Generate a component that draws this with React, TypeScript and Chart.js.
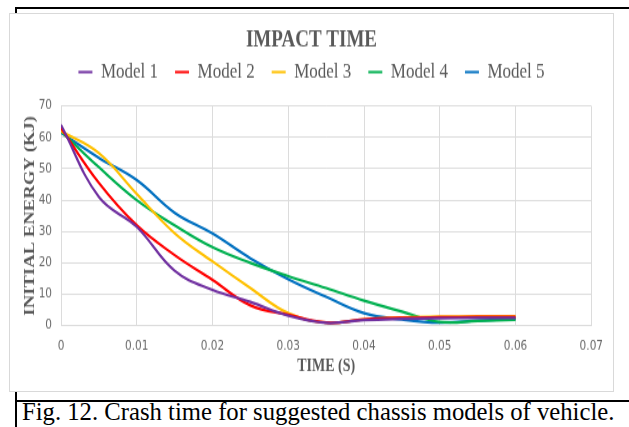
import React, { useEffect, useRef } from "react";
import { Chart, registerables } from "chart.js";

Chart.register(...registerables);

// ---- data ----
const timeValues = [0, 0.005, 0.01, 0.015, 0.02, 0.025, 0.03, 0.035, 0.04, 0.045, 0.05, 0.055, 0.06];
const model1 = [64, 41, 31.5, 17.5, 11.4, 7.6, 3.2, 0.9, 1.8, 2.2, 2.4, 2.5, 2.5];
const model2 = [63, 45.5, 32, 22.5, 14.6, 6.5, 3.5, 1.0, 2.0, 2.5, 2.7, 2.8, 2.8];
const model3 = [62, 55, 42, 29.5, 20.5, 12, 4, 1.0, 2.0, 2.6, 2.9, 3.0, 3.0];
const model4 = [62, 50.5, 40, 32, 25, 20, 15.8, 12, 8, 4.5, 1.2, 1.5, 1.9];
const model5 = [61.5, 53.5, 46.4, 36, 29.4, 21.5, 14.8, 9.2, 4, 2, 1.0, 1.6, 2.2];
const seriesNames = ["Model 1", "Model 2", "Model 3", "Model 4", "Model 5"];
const seriesValues = [model1, model2, model3, model4, model5];
const seriesColors = ["#7030A0", "#FF0000", "#FFC000", "#00B050", "#0070C0"];
const xMin = 0;
const xMax = 0.07;
const xStep = 0.01;
const yMin = 0;
const yMax = 70;
const yStep = 10;
const chartTitle = "IMPACT TIME";
const xTitle = "TIME (S)";
const yTitle = "INITIAL ENERGY (KJ)";
const caption = "Fig. 12. Crash time for suggested chassis models of vehicle.";

const CANVAS_W = 603;
const CANVAS_H = 302;
const SCALE_Y = 377 / CANVAS_H;

export default function App() {
  const canvasRef = useRef<HTMLCanvasElement | null>(null);

  useEffect(() => {
    const canvas = canvasRef.current;
    if (!canvas) return;
    const serif = "'Liberation Serif', 'Times New Roman', serif";
    const textGray = "#595959";
    const grid = "#dcdcdc";
    const chart = new Chart(canvas, {
      type: "line",
      data: {
        datasets: seriesNames.map((name, i) => ({
          label: name,
          data: timeValues.map((t, j) => ({ x: t, y: seriesValues[i][j] })),
          borderColor: seriesColors[i],
          backgroundColor: seriesColors[i],
          borderWidth: 2.2,
          pointRadius: 0,
          tension: 0.4,
          fill: false,
        })),
      },
      options: {
        animation: false,
        responsive: true,
        maintainAspectRatio: false,
        devicePixelRatio: 1,
        layout: { padding: 0 },
        plugins: {
          tooltip: { enabled: false },
          title: {
            display: true,
            text: chartTitle,
            color: textGray,
            font: { family: serif, size: 19, weight: "bold", lineHeight: 1 },
            padding: { top: 11.5, bottom: -9.5 },
          },
          legend: {
            display: true,
            position: "top",
            labels: {
              color: textGray,
              font: { family: serif, size: 17 },
              boxWidth: 14,
              boxHeight: 2,
              padding: 17,
              generateLabels: (c: any) =>
                (Chart.defaults.plugins.legend.labels as any)
                  .generateLabels(c)
                  .map((l: any) => ({ ...l, lineWidth: 0 })),
            },
          },
          subtitle: {
            display: true,
            text: "",
            weight: 500,
            font: { size: 1, lineHeight: 1 },
            padding: { top: 7.7, bottom: 0 },
          } as any,
        },
        scales: {
          x: {
            type: "linear",
            min: xMin,
            max: xMax,
            border: { display: false },
            grid: { color: grid, lineWidth: 1, drawTicks: false },
            ticks: {
              stepSize: xStep,
              padding: 10,
              color: "#6a6a6a",
              font: { family: "'DejaVu Sans', sans-serif", size: 10.5 },
              callback: (v: any) => String(Number(Number(v).toFixed(3))),
            },
            title: {
              display: true,
              text: xTitle,
              color: textGray,
              font: { family: serif, size: 14, weight: "bold", lineHeight: 1.2 },
              padding: { top: 0, bottom: 10.8 },
            },
            afterFit: (s: any) => {
              s.height = CANVAS_H - 249.7;
            },
          },
          y: {
            type: "linear",
            min: yMin,
            max: yMax,
            border: { display: false },
            grid: { color: grid, lineWidth: 1, drawTicks: false },
            ticks: {
              stepSize: yStep,
              padding: 9,
              color: "#6a6a6a",
              font: { family: "'DejaVu Sans', sans-serif", size: 10.5 },
            },
            title: {
              display: true,
              text: yTitle,
              color: textGray,
              font: { family: serif, size: 15, weight: "bold", lineHeight: 1.2 },
              padding: { top: 11, bottom: 0 },
            },
            afterFit: (s: any) => {
              s.width = 51;
            },
          },
          yRightSpace: {
            type: "linear",
            position: "right",
            display: true,
            min: yMin,
            max: yMax,
            border: { display: false },
            grid: { display: false, drawTicks: false },
            ticks: { display: false },
            afterFit: (s: any) => {
              s.width = 18;
            },
          },
        },
      } as any,
    });
    return () => chart.destroy();
  }, []);

  return (
    <div
      style={{
        position: "absolute",
        left: 0,
        top: 0,
        width: 629,
        height: 427,
        overflow: "hidden",
        background: "#ffffff",
      }}
    >
      <div style={{ position: "absolute", left: 15, top: 7, width: 614, height: 2, background: "#000" }} />
      <div style={{ position: "absolute", left: 15, top: 7, width: 2, height: 6, background: "#000" }} />
      <div
        style={{
          position: "absolute",
          left: 9,
          top: 13,
          width: 605,
          height: 379,
          boxSizing: "border-box",
          border: "1px solid #d9d9d9",
          background: "#fff",
          overflow: "hidden",
        }}
      >
        <div
          style={{
            position: "absolute",
            left: 0,
            top: 0,
            width: CANVAS_W,
            height: CANVAS_H,
            transform: `scaleY(${SCALE_Y})`,
            transformOrigin: "top left",
          }}
        >
          <canvas ref={canvasRef} />
        </div>
      </div>
      <div style={{ position: "absolute", left: 15, top: 400, width: 614, height: 2, background: "#000" }} />
      <div style={{ position: "absolute", left: 15, top: 392, width: 2, height: 35, background: "#000" }} />
      <div
        style={{
          position: "absolute",
          left: 22,
          top: 400,
          fontFamily: "'Liberation Serif', 'Times New Roman', serif",
          fontSize: 24.7,
          lineHeight: "24px",
          whiteSpace: "nowrap",
          color: "#000",
        }}
      >
        {caption}
      </div>
    </div>
  );
}
